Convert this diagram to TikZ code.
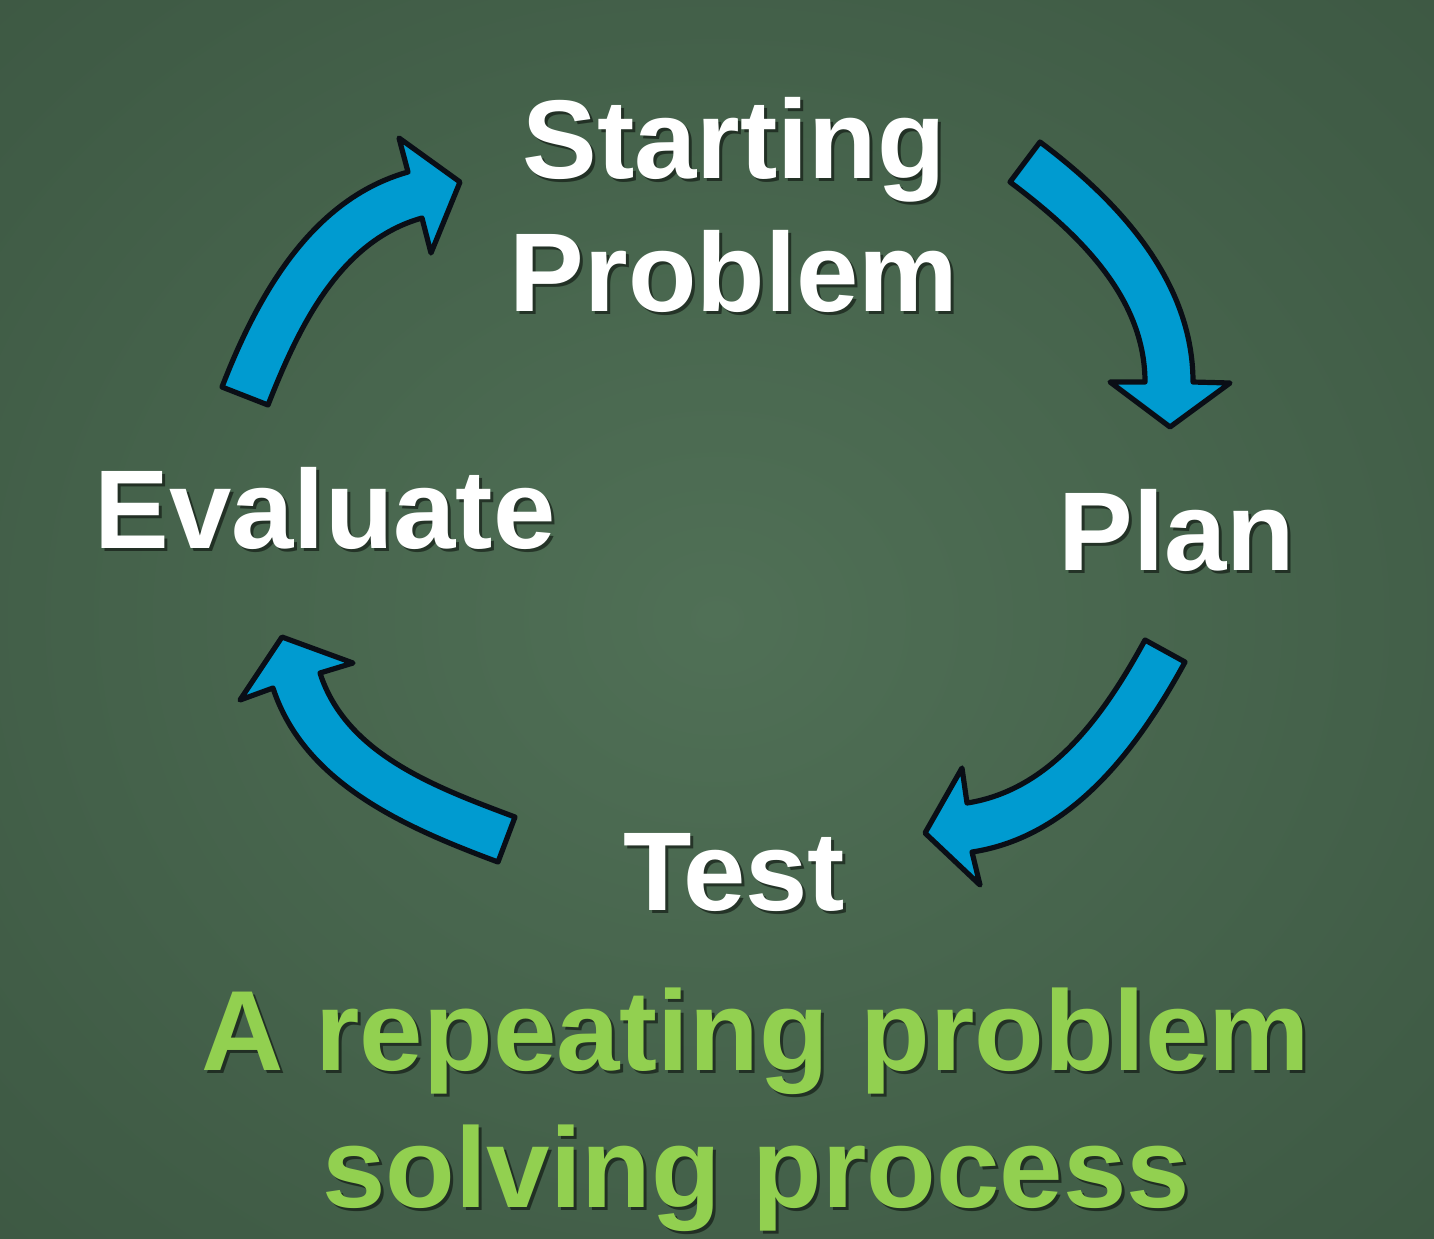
\documentclass[tikz,border=0pt]{standalone}
\usepackage{fontspec}
\setmainfont{Liberation Sans}

\definecolor{boardin}{RGB}{80,112,86}
\definecolor{boardmid}{RGB}{64,92,70}
\definecolor{boardedge}{RGB}{46,70,52}
\definecolor{cycleblue}{RGB}{0,155,208}
\definecolor{cycleline}{RGB}{10,14,22}
\definecolor{notegreen}{RGB}{146,208,80}

\pgfdeclareradialshading{board}{\pgfpoint{0bp}{0bp}}{%
  color(0bp)=(boardin); color(30bp)=(boardmid); color(71bp)=(boardedge)}

\begin{document}
\begin{tikzpicture}[x=0.5pt, y=-0.5pt,
  every node/.style={inner sep=0pt, align=center,
                     font=\bfseries\fontsize{56}{66.5}\selectfont},
  stagetext/.style={text=white},
  notetext/.style={text=notegreen, font=\bfseries\fontsize{57}{68.5}\selectfont},
  drop/.style={text=black, text opacity=0.5},
  cyclearrow/.style={fill=cycleblue, draw=cycleline, line width=2.6pt, line join=round}
]
  \useasboundingbox (0,0) rectangle (1434,1238);
  \shade[shading=board] (0,0) rectangle (1434,1238);

  % stages of the cycle
  \node[drop, anchor=north] (start-sh) at (737,100) {Starting\\Problem};
  \node[stagetext, anchor=north] (start) at (734,97) {Starting\\Problem};
  \node[drop, anchor=base] (plan-sh) at (1180,573) {Plan};
  \node[stagetext, anchor=base] (plan) at (1177,570) {Plan};
  \node[drop, anchor=base] (test-sh) at (737,913) {Test};
  \node[stagetext, anchor=base] (test) at (734,910) {Test};
  \node[drop, anchor=base] (eval-sh) at (328,551) {Evaluate};
  \node[stagetext, anchor=base] (eval) at (325,548) {Evaluate};

  % curved block arrows
  \draw[cyclearrow] (1040,142) .. controls (1120,202) and (1193,282) .. (1193,382)
    -- (1230,383) -- (1170,427) -- (1110,382) -- (1145,382)
    .. controls (1145,297) and (1078,233) .. (1010,182) -- cycle;
  \draw[cyclearrow] (1145,640) -- (1185,662)
    .. controls (1137,750) and (1071,837) .. (972,852)
    -- (980,885) -- (925,833) -- (962,768) -- (967,803)
    .. controls (1051,790) and (1104,715) .. (1145,640) -- cycle;
  \draw[cyclearrow] (498,862) -- (515,817)
    .. controls (435,787) and (346,754) .. (320,673)
    -- (353,663) -- (282,637) -- (240,700) -- (273,688)
    .. controls (304,783) and (404,827) .. (498,862) -- cycle;
  \draw[cyclearrow] (222,387) -- (268,405)
    .. controls (299,326) and (340,241) .. (422,218)
    -- (431,253) -- (460,182) -- (399,138) -- (408,172)
    .. controls (312,199) and (258,294) .. (222,387) -- cycle;

  % caption
  \node[notetext, drop, anchor=north] (note-sh) at (759,990) {A repeating problem\\solving process};
  \node[notetext, anchor=north] (note) at (756,987) {A repeating problem\\solving process};
\end{tikzpicture}
\end{document}
